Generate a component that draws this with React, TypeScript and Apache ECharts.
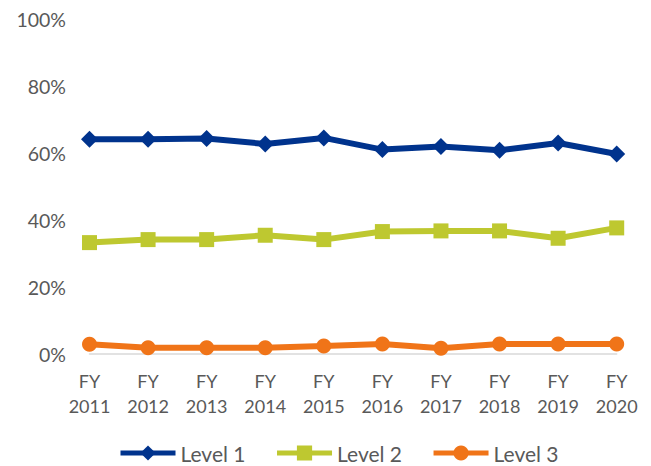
import React, { useEffect, useRef } from "react";
import * as echarts from "echarts";

const categories = ["FY\n2011", "FY\n2012", "FY\n2013", "FY\n2014", "FY\n2015", "FY\n2016", "FY\n2017", "FY\n2018", "FY\n2019", "FY\n2020"];
const level1 = [64.2, 64.2, 64.4, 62.8, 64.6, 61.1, 62.0, 60.9, 63.1, 59.8];
const level2 = [33.3, 34.2, 34.2, 35.5, 34.2, 36.6, 36.8, 36.8, 34.6, 37.7];
const level3 = [2.9, 1.9, 1.9, 1.9, 2.4, 3.0, 1.7, 3.0, 3.0, 3.0];
const seriesNames = ["Level 1", "Level 2", "Level 3"];
const yTicks = [0, 20, 40, 60, 80, 100];

const COLORS = ["#00338d", "#bec830", "#f07418"];
const FONT = "Lato";
const TEXT_COLOR = "#595959";

export default function App() {
  const ref = useRef<HTMLDivElement>(null);
  useEffect(() => {
    if (!ref.current) return;
    const chart = echarts.init(ref.current, undefined, { renderer: "svg" });
    const mk = (name: string, data: number[], color: string, symbol: string, size: number) => ({
      name,
      type: "line",
      data,
      symbol,
      symbolSize: size,
      showAllSymbol: true,
      itemStyle: { color },
      lineStyle: { color, width: 6 },
      emphasis: { disabled: true },
    });
    chart.setOption({
      animation: false,
      grid: { left: 89.5, right: 34.3, top: 19.5, bottom: 112, containLabel: false, outerBoundsMode: "none" },
      xAxis: {
        type: "category",
        data: categories,
        boundaryGap: false,
        axisLine: { show: true, lineStyle: { color: "#d9d9d9", width: 1.5 } },
        axisTick: { show: false },
        axisLabel: {
          color: TEXT_COLOR,
          fontFamily: FONT,
          fontSize: 18,
          lineHeight: 24.5,
          margin: 15,
          interval: 0,
        },
        splitLine: { show: false },
      },
      yAxis: {
        type: "value",
        min: 0,
        max: 100,
        interval: 20,
        axisLine: { show: false },
        axisTick: { show: false },
        splitLine: { show: false },
        axisLabel: {
          color: TEXT_COLOR,
          fontFamily: FONT,
          fontSize: 19.5,
          margin: 23.5,
          formatter: (v: number) => (yTicks.includes(v) ? `${v}%` : ""),
        },
      },
      legend: {
        data: seriesNames,
        left: 113,
        top: 437,
        itemWidth: 55,
        itemHeight: 19,
        itemGap: 29,
        lineStyle: { width: 5 },
        textStyle: { color: TEXT_COLOR, fontFamily: FONT, fontSize: 21, lineHeight: 22, padding: [0, 0, 0, 0] },
      },
      series: [
        mk(seriesNames[0], level1, COLORS[0], "diamond", 17),
        mk(seriesNames[1], level2, COLORS[1], "rect", 15),
        mk(seriesNames[2], level3, COLORS[2], "circle", 15),
      ],
    });
    return () => chart.dispose();
  }, []);
  return <div ref={ref} style={{ width: 651, height: 466, position: "absolute", left: 0, top: 0, background: "#fff" }} />;
}
